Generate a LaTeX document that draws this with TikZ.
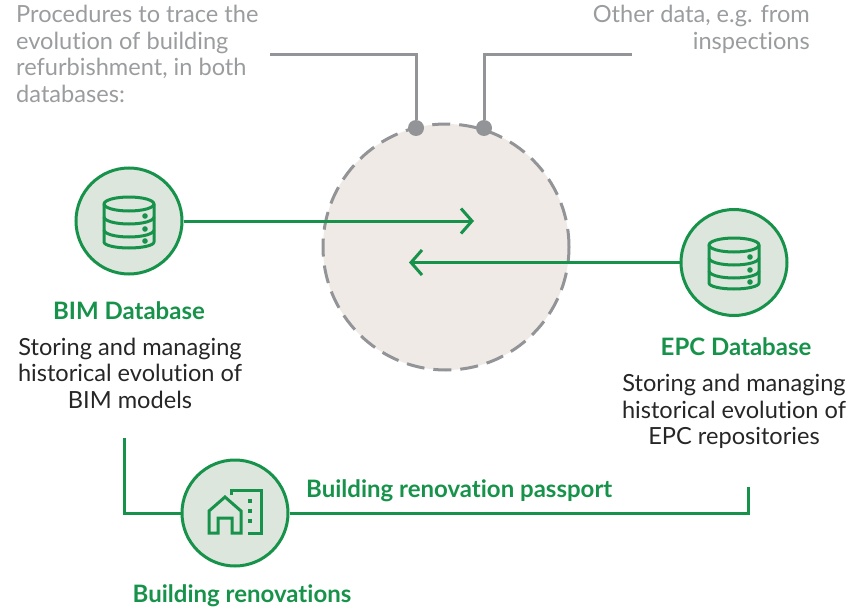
\documentclass[tikz,border=0pt]{standalone}
\usepackage{fontspec}
\setmainfont[Ligatures=CommonOff]{Lato}
\usetikzlibrary{arrows.meta}
\definecolor{bpgreen}{HTML}{17924A}
\definecolor{bpfill}{HTML}{DCE6DC}
\definecolor{bpgrey}{HTML}{929497}
\definecolor{bptext}{HTML}{9A9C9E}
\definecolor{bpcore}{HTML}{EFEAE6}
\tikzset{%
  hub/.style={circle,draw=bpgreen,fill=bpfill,line width=3pt,minimum size=106pt,inner sep=0pt},%
  link/.style={draw=bpgreen,line width=3pt},%
  feed/.style={draw=bpgrey,line width=3pt},%
  pin/.style={circle,fill=bpgrey,minimum size=16pt,inner sep=0pt},%
  head/.style={text=bpgreen,font=\fontsize{24}{26}\selectfont\bfseries,inner sep=0pt},%
  body/.style={text=black!85,font=\fontsize{23.6}{26.5}\selectfont,align=center,inner sep=0pt},%
  note/.style={text=bptext,font=\fontsize{23.6}{26.5}\selectfont,inner sep=0pt},%
  glyph/.style={draw=bpgreen,line width=3pt,line join=round},%
}
\begin{document}
\begin{tikzpicture}[x=1pt,y=-1pt]
  \useasboundingbox (0,0) rectangle (855,613);%
  % central circle
  \node[circle,fill=bpcore,draw=bpgrey,line width=3pt,dash pattern=on 18pt off 9pt,minimum size=246pt,inner sep=0pt] (core) at (446,247) {};%
  % hubs
  \node[hub] (bim) at (129,221) {};%
  \node[hub] (epc) at (734,262.5) {};%
  \node[hub] (reno) at (235,513) {};%
  % pins and grey feeds
  \node[pin] (pinl) at (416,128) {};%
  \node[pin] (pinr) at (484,128) {};%
  \coordinate (feedl) at (270,54);%
  \coordinate (feedr) at (632,54);%
  \draw[feed] (feedl) -| (pinl);%
  \draw[feed] (feedr) -| (pinr);%
  % arrows
  \coordinate (tipr) at (474,221);%
  \coordinate (tipl) at (409,262.5);%
  \draw[link,-{Straight Barb[length=11pt,width=25pt]}] (bim) -- (tipr);%
  \draw[link,-{Straight Barb[length=11pt,width=25pt]}] (epc) -- (tipl);%
  % passport line
  \coordinate (passl) at (124,438);%
  \coordinate (passr) at (748,487);%
  \draw[link] (passl) |- (reno);%
  \draw[link] (reno) -| (passr);%
  % database glyphs
  \foreach \cx/\cy in {129/221,734/262} {%
    \begin{scope}[shift={(\cx,\cy)}]
      \draw[glyph] (-25,-17) arc[start angle=180,end angle=360,x radius=25,y radius=7] -- (25,21) arc[start angle=0,end angle=180,x radius=25,y radius=6] -- cycle;%
      \draw[glyph] (-25,-17) arc[start angle=180,end angle=0,x radius=25,y radius=7];%
      \draw[glyph] (-25,-4) arc[start angle=180,end angle=0,x radius=25,y radius=7];%
      \draw[glyph] (-25,9) arc[start angle=180,end angle=0,x radius=25,y radius=7];%
      \fill[bpgreen] (16,-5) circle (2.8);%
      \fill[bpgreen] (16,8) circle (2.8);%
      \fill[bpgreen] (16,20) circle (2.8);%
    \end{scope}
  }
  % house glyph
  \begin{scope}[shift={(235,513)}]
    \draw[glyph,line join=miter] (-26,20) -- (-26,-2) -- (-10,-16) -- (6,-2) -- (6,20) -- (-3,20) -- (-3,5) -- (-17,5) -- (-17,20) -- cycle;%
    \draw[glyph,line join=miter] (-4,-18) -- (-4,-23) -- (26,-23) -- (26,20) -- (13,20);%
    \fill[bpgreen] (13,-14) rectangle (17,-10);%
    \fill[bpgreen] (13,-4) rectangle (17,0);%
    \fill[bpgreen] (13,6) rectangle (17,10);%
  \end{scope}
  % texts
  \node[note,anchor=north west,align=left] (notel) at (16,5) {Procedures to trace the\\evolution of building\\refurbishment, in both\\databases:};%
  \node[note,anchor=north east,align=right] (noter) at (810,5) {Other data, e.g. from\\inspections};%
  \node[head] (bimhead) at (129,311) {BIM Database};%
  \node[body,anchor=north] (bimtext) at (130,337.5) {Storing and managing\\historical evolution of\\BIM models};%
  \node[head] (epchead) at (736,347) {EPC Database};%
  \node[body,anchor=north] (epctext) at (734,374) {Storing and managing\\historical evolution of\\EPC repositories};%
  \node[head,anchor=west] (passhead) at (306,491) {Building renovation passport};%
  \node[head] (renohead) at (242,596) {Building renovations};%
\end{tikzpicture}
\end{document}
